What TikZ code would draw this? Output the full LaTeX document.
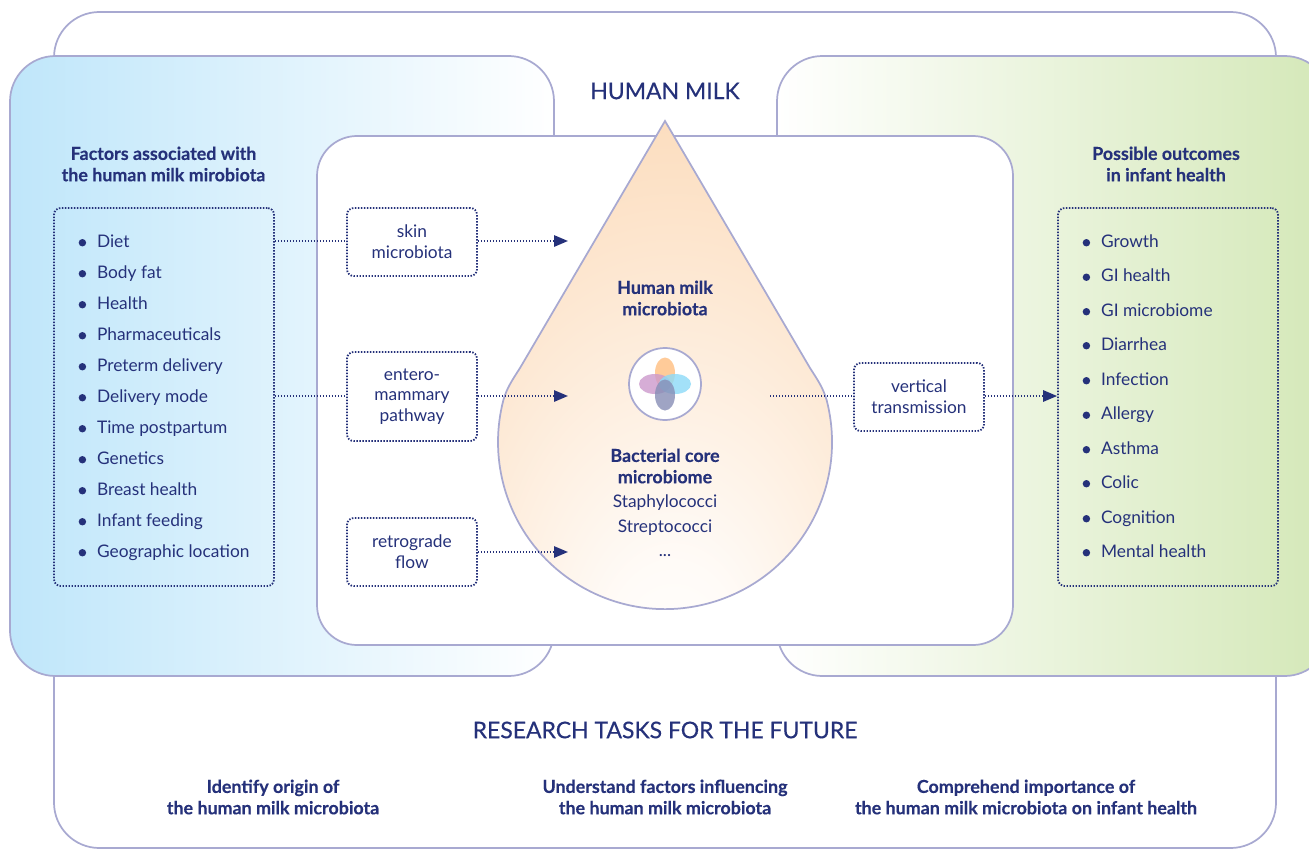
\documentclass[tikz,border=0pt]{standalone}
\usepackage{fontspec}
\setmainfont{Lato}
\usetikzlibrary{arrows.meta, calc}
\definecolor{navy}{HTML}{25317A}
\definecolor{framecol}{HTML}{A8A9D1}
\definecolor{dropcol}{HTML}{FCDDBE}
\definecolor{bluepanel}{HTML}{BFE6FA}
\definecolor{greenpanel}{HTML}{D4E8B8}
\pgfdeclareradialshading{dropglow}{\pgfpoint{0bp}{-32bp}}{color(0bp)=(white); color(10bp)=(white!88!dropcol); color(44bp)=(dropcol); color(100bp)=(dropcol)}
\newcommand{\bul}{\makebox[12.6pt][l]{\hspace{-1.2pt}\tikz[baseline=-3.2pt]\fill[navy] (0,0) circle (2.8pt);}}
\tikzset{
  frame/.style={draw=framecol, line width=1.3pt, rounded corners=34pt},
  dotbox/.style={draw=navy, line width=1.35pt, dash pattern=on 1.1pt off 1.15pt, rounded corners=5pt, minimum width=97.5pt, align=center, text=navy, font=\fontsize{13}{15.6}\selectfont},
  dotline/.style={navy, line width=1.35pt, dash pattern=on 1.1pt off 1.15pt},
  heading/.style={align=center, text=navy, font=\fontsize{13.4}{16}\selectfont\bfseries\addfontfeature{FakeBold=0.3}},
  title/.style={text=navy, font=\fontsize{17.2}{20}\selectfont\addfontfeature{FakeBold=0.4}},
  listitem/.style={anchor=base west, inner sep=0pt, text=navy, font=\fontsize{13}{15}\selectfont},
  tipped/.style={-{Triangle[length=10.5pt, width=8.5pt]}}
}
\begin{document}
\begin{tikzpicture}[x=0.75pt, y=-0.75pt]
    \useasboundingbox (0,0) rectangle (1309,849);

    % Outer frame
    \draw[frame, fill=white] (54,12) rectangle (1276,848);

    % Side panels
    \draw[frame, left color=bluepanel, right color=white] (10,56) rectangle (554,676);
    \begin{scope}
    \clip (0,0) rectangle (1309,849);
    \draw[frame, left color=white, right color=greenpanel] (777,56) rectangle (1330,676);
    \end{scope}

    % Center panel
    \draw[frame, rounded corners=30pt, fill=white] (317,136) rectangle (1013,645);

    % Milk drop
    \draw[draw=framecol, line width=1.3pt, shading=dropglow] (665,121) -- (810,368) .. controls (819,382) and (823,388) .. (826.6,400) arc[start angle=-14.6, end angle=194.6, radius=167] .. controls (507,388) and (511,382) .. (520,368) -- cycle;

    % Flower
    \draw[draw=framecol, line width=1.3pt, fill=white] (665,384) circle (36);
    \fill[orange!50, opacity=.8] (665,373) ellipse (10 and 15.5);
    \fill[violet!40, opacity=.8] (655,384) ellipse (16 and 10);
    \fill[cyan!45, opacity=.8] (675,384) ellipse (16 and 10);
    \fill[navy!55, opacity=.8] (665,395) ellipse (10 and 15.5);

    % Titles
    \node[title] (milk) at (665,91) {HUMAN MILK};
    \node[title] (tasks) at (665,730) {RESEARCH TASKS FOR THE FUTURE};

    % Headings
    \node[heading] (factors) at (163.5,164) {Factors associated with\\the human milk mirobiota};
    \node[heading] (outcomes) at (1166,164) {Possible outcomes\\in infant health};
    \node[heading] (core) at (665,298) {Human milk\\microbiota};
    \node[heading] (bact) at (665,466) {Bacterial core\\microbiome};
    \node[align=center, text=navy, font=\fontsize{13}{18.4}\selectfont] (bactlist) at (665,526) {Staphylococci\\Streptococci\\...};
    \node[heading] (taska) at (273,797) {Identify origin of\\the human milk microbiota};
    \node[heading] (taskb) at (665,797) {Understand factors influencing\\the human milk microbiota};
    \node[heading] (taskc) at (1026,797) {Comprehend importance of\\the human milk microbiota on infant health};

    % Boxes
    \node[dotbox, minimum height=283.5pt, minimum width=165pt] (factorbox) at (164,397) {};
    \node[dotbox, minimum height=283.5pt, minimum width=165pt] (outcomebox) at (1168,397) {};
    \node[dotbox, minimum height=51pt] (skin) at (412,242) {skin\\microbiota};
    \node[dotbox, minimum height=66.8pt] (entero) at (412,396.5) {entero-\\mammary\\pathway};
    \node[dotbox, minimum height=51pt] (retro) at (412,552) {retrograde\\flow};
    \node[dotbox, minimum height=51pt] (vertical) at (919,397) {vertical\\transmission};

    % Left list
    \node[listitem] (f1) at (80,247) {\bul Diet};
    \node[listitem] (f2) at (80,278) {\bul Body fat};
    \node[listitem] (f3) at (80,309) {\bul Health};
    \node[listitem] (f4) at (80,340) {\bul Pharmaceuticals};
    \node[listitem] (f5) at (80,371) {\bul Preterm delivery};
    \node[listitem] (f6) at (80,402) {\bul Delivery mode};
    \node[listitem] (f7) at (80,433) {\bul Time postpartum};
    \node[listitem] (f8) at (80,464) {\bul Genetics};
    \node[listitem] (f9) at (80,495) {\bul Breast health};
    \node[listitem] (f10) at (80,526) {\bul Infant feeding};
    \node[listitem] (f11) at (80,557) {\bul Geographic location};

    % Right list
    \node[listitem] (o1) at (1084,247) {\bul Growth};
    \node[listitem] (o2) at (1084,281.5) {\bul GI health};
    \node[listitem] (o3) at (1084,316) {\bul GI microbiome};
    \node[listitem] (o4) at (1084,350) {\bul Diarrhea};
    \node[listitem] (o5) at (1084,385) {\bul Infection};
    \node[listitem] (o6) at (1084,419.5) {\bul Allergy};
    \node[listitem] (o7) at (1084,454) {\bul Asthma};
    \node[listitem] (o8) at (1084,488) {\bul Colic};
    \node[listitem] (o9) at (1084,523) {\bul Cognition};
    \node[listitem] (o10) at (1084,557) {\bul Mental health};

    % Connectors
    \coordinate (skintip) at (568,241);
    \coordinate (enterotip) at (568,396);
    \coordinate (retrotip) at (568,552);
    \coordinate (dropout) at (770,396);
    \draw[dotline] (factorbox.east |- skintip) -- (skin.west |- skintip);
    \draw[dotline] (factorbox.east |- enterotip) -- (entero.west |- enterotip);
    \draw[dotline, tipped] (skin.east |- skintip) -- (skintip);
    \draw[dotline, tipped] (entero.east |- enterotip) -- (enterotip);
    \draw[dotline, tipped] (retro.east |- retrotip) -- (retrotip);
    \draw[dotline] (dropout) -- (vertical.west |- dropout);
    \draw[dotline, tipped] (vertical.east |- dropout) -- (outcomebox.west |- dropout);
\end{tikzpicture}
\end{document}
